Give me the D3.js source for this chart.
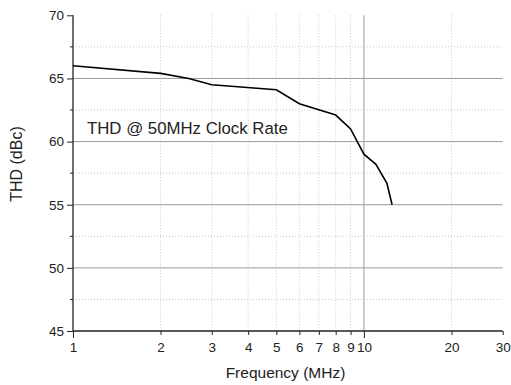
<!DOCTYPE html>
<html><head><meta charset="utf-8">
<script src="https://cdn.jsdelivr.net/npm/d3@7/dist/d3.min.js"></script>
<style>body{margin:0;background:#fff}svg{display:block}text{font-family:"Liberation Sans",Arial,sans-serif;fill:#222}</style>
</head><body>
<svg id="c" width="511" height="385"></svg>
<script>
const freq = [1, 2, 2.5, 3, 5, 6, 8, 9, 10, 11, 12, 12.5];
const thd  = [66.0, 65.4, 65.0, 64.5, 64.1, 63.0, 62.1, 61.0, 59.0, 58.2, 56.7, 55.0];
const xTicks = [1, 2, 3, 4, 5, 6, 7, 8, 9, 10, 20, 30];
const yTicks = [45, 50, 55, 60, 65, 70];
const yMinor = [47.5, 52.5, 57.5, 62.5, 67.5];
const label = "THD @ 50MHz Clock Rate";

const svg = d3.select("#c");
const L = 73, R = 502.7, T = 15.3, B = 331;
const x = d3.scaleLog().domain([1, 30]).range([L, R]);
const y = d3.scaleLinear().domain([45, 70]).range([B, T]);

// minor horizontal dotted
svg.append("g").selectAll("line").data(yMinor).join("line")
  .attr("x1", L).attr("x2", R).attr("y1", d => y(d)).attr("y2", d => y(d))
  .attr("stroke", "#c8c8c8").attr("stroke-dasharray", "1,2");
// vertical dotted
svg.append("g").selectAll("line").data(xTicks.filter(d => d !== 1 && d !== 10 && d !== 30)).join("line")
  .attr("x1", d => x(d)).attr("x2", d => x(d)).attr("y1", T).attr("y2", B)
  .attr("stroke", "#c8c8c8").attr("stroke-dasharray", "1,2");
// major horizontal
svg.append("g").selectAll("line").data(yTicks.filter(d => d > 45 && d < 70)).join("line")
  .attr("x1", L).attr("x2", R).attr("y1", d => y(d)).attr("y2", d => y(d))
  .attr("stroke", "#999");
// vertical at 10
svg.append("line").attr("x1", x(10)).attr("x2", x(10)).attr("y1", T).attr("y2", B)
  .attr("stroke", "#aaa").attr("stroke-width", 1.2);

// axes
const yAx = svg.append("g").attr("transform", `translate(${L},0)`)
  .call(d3.axisLeft(y).tickValues(yTicks).tickSize(6).tickPadding(3).tickFormat(d3.format("d")));
yAx.append("g").selectAll("line").data(yMinor).join("line")
  .attr("x1", -3).attr("x2", 0).attr("y1", d => y(d)).attr("y2", d => y(d)).attr("stroke", "#222");
const xAx = svg.append("g").attr("transform", `translate(0,${B})`)
  .call(d3.axisBottom(x).tickValues(xTicks).tickSize(4).tickPadding(6).tickFormat(d3.format("d")));
xAx.selectAll(".tick line").attr("y2", d => (d === 1 || d === 10) ? 7 : 4);
[yAx, xAx].forEach(g => {
  g.select(".domain").attr("stroke", "#222").attr("stroke-width", 1.3);
  g.selectAll(".tick line").attr("stroke", "#222");
  g.selectAll("text").attr("font-size", 13.5).attr("fill", "#222")
   .style("font-family", '"Liberation Sans",Arial,sans-serif');
});
xAx.select(".domain").attr("d", `M${L},0H${R}`);
xAx.selectAll(".tick text").attr("y", 11.5);
yAx.select(".domain").attr("d", `M0,${T}V${B}`);

// line
svg.append("path").datum(freq.map((f, i) => [f, thd[i]]))
  .attr("d", d3.line().x(d => x(d[0])).y(d => y(d[1])))
  .attr("fill", "none").attr("stroke", "#000").attr("stroke-width", 1.6);

svg.append("text").attr("x", 87).attr("y", 133.5).attr("font-size", 16.8).text(label);
svg.append("text").attr("transform", `translate(21.5,164) rotate(-90)`).attr("text-anchor", "middle")
  .attr("font-size", 16).text("THD (dBc)");
svg.append("text").attr("x", 285.5).attr("y", 378).attr("text-anchor", "middle")
  .attr("font-size", 15.5).text("Frequency (MHz)");
</script>
</body></html>
